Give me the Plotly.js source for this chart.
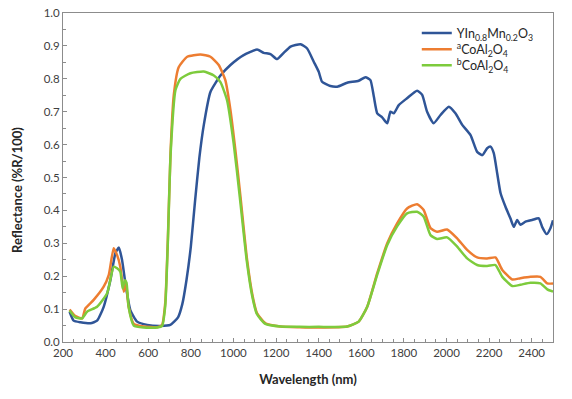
<!DOCTYPE html>
<html>
<head>
<meta charset="utf-8">
<script src="https://cdn.plot.ly/plotly-3.0.1.min.js"></script>
<style>html,body{margin:0;padding:0;background:#fff;}#chart{width:572px;height:399px;}</style>
</head>
<body>
<div id="chart"></div>
<script>
// Series names
const seriesNames = [
  "YIn<sub>0.8</sub>Mn<sub>0.2</sub>O<sub>3</sub>",
  "<sup>a</sup>CoAl<sub>2</sub>O<sub>4</sub>",
  "<sup>b</sup>CoAl<sub>2</sub>O<sub>4</sub>"
];
const xTitle = "Wavelength (nm)";
const yTitle = "Reflectance (%R/100)";

// YIn0.8Mn0.2O3 (blue)
const blueX = [231,250,282,329,360,391,423,446,462,477,493,516,548,595,657,704,740,760,780,800,820,840,861,892,939,986,1048,1111,1142,1174,1205,1236,1268,1315,1346,1377,1400,1416,1455,1487,1534,1588,1620,1643,1659,1675,1698,1722,1737,1753,1776,1815,1862,1886,1909,1940,1972,2011,2042,2074,2113,2144,2168,2191,2207,2222,2238,2254,2277,2300,2316,2332,2347,2371,2402,2433,2449,2470,2488,2500];
const blueY = [0.092,0.065,0.060,0.057,0.065,0.107,0.19,0.27,0.287,0.25,0.178,0.097,0.062,0.052,0.049,0.052,0.075,0.115,0.19,0.29,0.43,0.56,0.66,0.76,0.81,0.842,0.872,0.889,0.879,0.875,0.86,0.879,0.898,0.905,0.892,0.852,0.822,0.791,0.778,0.776,0.788,0.794,0.805,0.796,0.746,0.695,0.683,0.665,0.70,0.695,0.72,0.741,0.764,0.751,0.70,0.665,0.69,0.715,0.695,0.66,0.629,0.578,0.568,0.589,0.594,0.574,0.513,0.452,0.411,0.376,0.35,0.371,0.356,0.366,0.371,0.376,0.35,0.328,0.346,0.37];

// aCoAl2O4 (orange)
const orangeX = [231,258,290,305,344,391,415,438,454,469,485,496,508,532,579,642,665,680,692,705,720,743,783,845,892,931,962,986,1009,1033,1064,1090,1111,1150,1221,1310,1400,1534,1588,1628,1675,1722,1769,1815,1862,1893,1925,1956,2003,2050,2097,2144,2191,2230,2262,2309,2347,2394,2441,2473,2500];
const orangeY = [0.099,0.079,0.072,0.102,0.128,0.168,0.204,0.285,0.264,0.229,0.153,0.178,0.107,0.055,0.047,0.045,0.052,0.12,0.31,0.58,0.75,0.835,0.867,0.874,0.867,0.842,0.796,0.705,0.584,0.442,0.25,0.14,0.087,0.057,0.047,0.045,0.044,0.047,0.062,0.107,0.209,0.30,0.361,0.406,0.419,0.401,0.346,0.335,0.342,0.315,0.28,0.257,0.254,0.257,0.219,0.19,0.194,0.198,0.198,0.178,0.178];

// bCoAl2O4 (green)
const greenX = [231,258,290,313,360,407,438,454,469,480,490,498,508,532,579,642,665,680,692,705,728,751,798,861,908,939,970,1001,1030,1062,1088,1110,1150,1221,1310,1400,1534,1588,1628,1675,1722,1769,1815,1862,1893,1925,1956,2003,2050,2097,2144,2191,2230,2262,2309,2347,2394,2441,2473,2500];
const greenY = [0.096,0.075,0.072,0.092,0.107,0.148,0.229,0.224,0.214,0.163,0.188,0.18,0.107,0.05,0.044,0.044,0.049,0.11,0.30,0.57,0.766,0.80,0.817,0.822,0.81,0.79,0.735,0.604,0.44,0.25,0.14,0.085,0.055,0.047,0.046,0.046,0.047,0.062,0.107,0.205,0.295,0.352,0.391,0.396,0.381,0.325,0.313,0.318,0.29,0.254,0.234,0.231,0.234,0.198,0.17,0.174,0.18,0.178,0.16,0.153];

const colors = ["#2F5597", "#ED7D31", "#7DCB3C"];
const legendIds = ["legend", "legend2", "legend3"];
const font = "Lato, 'Open Sans', 'Liberation Sans', sans-serif";

const mk = (x, y, i) => ({
  x: x, y: y, name: seriesNames[i], type: "scatter", mode: "lines",
  legend: legendIds[i],
  line: {color: colors[i], width: 2.5, shape: "spline", smoothing: 0.5}
});

const data = [mk(blueX, blueY, 0), mk(orangeX, orangeY, 1), mk(greenX, greenY, 2)];

const legBase = {x: 0.722, xanchor: "left", yanchor: "middle",
  bgcolor: "rgba(0,0,0,0)", font: {size: 12.5, color: "#262626"}, itemwidth: 30};

const layout = {
  width: 572, height: 399,
  margin: {l: 63, r: 19, t: 13, b: 57},
  paper_bgcolor: "#fff", plot_bgcolor: "#fff",
  font: {family: font, size: 12, color: "#404040"},
  showlegend: true,
  legend: Object.assign({}, legBase, {y: 0.938}),
  legend2: Object.assign({}, legBase, {y: 0.889}),
  legend3: Object.assign({}, legBase, {y: 0.840}),
  xaxis: {
    range: [200, 2500], dtick: 200, tick0: 200,
    showgrid: false, zeroline: false,
    showline: true, linecolor: "#8c8c8c", linewidth: 1, mirror: true,
    ticks: "inside", ticklen: 4, tickcolor: "#8c8c8c",
    minor: {dtick: 50, ticks: "inside", ticklen: 3, tickcolor: "#8c8c8c"},
    tickfont: {size: 11.5, color: "#404040"},
    title: {text: "<b>" + xTitle + "</b>", font: {size: 13, color: "#262626"}, standoff: 17}
  },
  yaxis: {
    range: [0, 1], dtick: 0.1, tickformat: ".1f",
    showgrid: false, zeroline: false,
    showline: true, linecolor: "#8c8c8c", linewidth: 1, mirror: true,
    ticks: "inside", ticklen: 4, tickcolor: "#8c8c8c",
    minor: {dtick: 0.05, ticks: "inside", ticklen: 3, tickcolor: "#8c8c8c"},
    tickfont: {size: 11.5, color: "#404040"}
  },
  annotations: [{
    text: "<b>" + yTitle + "</b>", textangle: -90,
    xref: "paper", yref: "paper", x: -0.094, y: 0.462,
    xanchor: "center", yanchor: "middle", showarrow: false,
    font: {size: 13, color: "#262626"}
  }]
};

Plotly.newPlot("chart", data, layout, {staticPlot: true, displayModeBar: false});
</script>
</body>
</html>
